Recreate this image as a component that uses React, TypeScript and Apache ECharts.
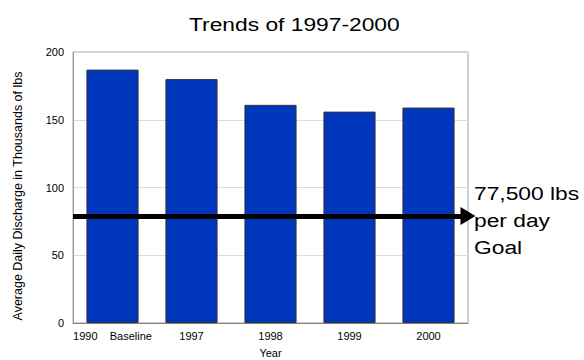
import React, { useEffect, useRef } from "react";
import * as echarts from "echarts";

const categories = ["1990    Baseline", "1997", "1998", "1999", "2000"];
const discharge = [187, 180, 161, 156, 159];
const goalValue = 79;
const titleText = "Trends of 1997-2000";
const yAxisTitle = "Average Daily Discharge in Thousands of lbs";
const goalText = "77,500 lbs\nper day\nGoal";

export default function App() {
  const ref = useRef<HTMLDivElement>(null);
  useEffect(() => {
    if (!ref.current) return;
    const chart = echarts.init(ref.current, null, { renderer: "svg" });
    const font = "Liberation Sans, Arial, sans-serif";
    chart.setOption({
      animation: false,
      grid: {
        left: 73,
        right: 116,
        top: 52,
        bottom: 37,
        outerBoundsMode: "none",
        containLabel: false,
        show: true,
        borderColor: "#a0a0a0",
        borderWidth: 1,
        backgroundColor: "transparent",
      },
      xAxis: {
        type: "category",
        data: categories,
        name: "Year",
        nameLocation: "middle",
        nameGap: 24,
        nameTextStyle: { fontFamily: font, fontSize: 11, color: "#000" },
        axisLine: { lineStyle: { color: "#808080" } },
        axisTick: { show: false },
        axisLabel: { interval: 0, fontFamily: font, fontSize: 11, color: "#000", margin: 7 },
      },
      yAxis: {
        type: "value",
        min: 0,
        max: 200,
        interval: 50,
        axisLine: { show: true, lineStyle: { color: "#a0a0a0" } },
        axisTick: { show: false },
        axisLabel: { fontFamily: font, fontSize: 11, color: "#000", margin: 9 },
        splitLine: { lineStyle: { color: "#dcdcdc" } },
      },
      series: [
        {
          type: "bar",
          data: discharge,
          barCategoryGap: "34%",
          itemStyle: { color: "#0036BC", borderColor: "#333", borderWidth: 1 },
          markLine: {
            silent: true,
            symbol: ["none", "triangle"],
            symbolSize: [18, 15],
            label: { show: false },
            lineStyle: { color: "#000", width: 5, type: "solid" },
            data: [{ yAxis: goalValue }],
          },
        },
      ],
      graphic: [
        {
          type: "text",
          x: 189,
          y: 24,
          scaleX: 1.2,
          style: {
            text: titleText,
            fontFamily: font,
            fontSize: 19,
            fill: "#000",
            align: "left",
            verticalAlign: "middle",
          },
        },
        {
          type: "text",
          x: 18,
          y: 196,
          rotation: Math.PI / 2,
          style: {
            text: yAxisTitle,
            fontFamily: font,
            fontSize: 12.5,
            fill: "#000",
            align: "center",
            verticalAlign: "middle",
          },
        },
        {
          type: "text",
          x: 474,
          y: 220,
          scaleX: 1.2,
          style: {
            text: goalText,
            fontFamily: font,
            fontSize: 19,
            lineHeight: 27,
            fill: "#000",
            align: "left",
            verticalAlign: "middle",
          },
        },
      ],
    });
    return () => chart.dispose();
  }, []);
  return (
    <div
      ref={ref}
      style={{ position: "absolute", left: 0, top: 0, width: 584, height: 360 }}
    />
  );
}
